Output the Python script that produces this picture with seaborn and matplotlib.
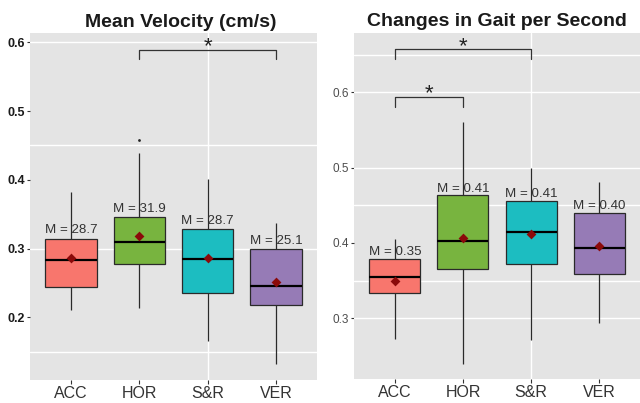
import numpy as np
import pandas as pd
import matplotlib
matplotlib.use("Agg")
import matplotlib.pyplot as plt
from matplotlib.ticker import FixedLocator
import seaborn as sns

# ---------------- data ----------------
categories = ["ACC", "HOR", "S&R", "VER"]
colors = ["#F8766D", "#78B43F", "#1CBDC1", "#967BB6"]

# Mean velocity: whisker low, Q1, median, Q3, whisker high
vel_low = [0.211, 0.213, 0.165, 0.132]
vel_q1 = [0.2445, 0.2775, 0.235, 0.2175]
vel_med = [0.283, 0.310, 0.285, 0.2455]
vel_q3 = [0.3146, 0.3455, 0.328, 0.2998]
vel_high = [0.382, 0.4394, 0.401, 0.3367]
vel_mean = [0.287, 0.319, 0.287, 0.251]
vel_labels = ["M = 28.7", "M = 31.9", "M = 28.7", "M = 25.1"]
vel_outlier_cat = ["HOR"]
vel_outlier_val = [0.458]
vel_yticks = [0.2, 0.3, 0.4, 0.5, 0.6]
vel_grid = [0.15, 0.30, 0.45, 0.60]
vel_sig = [("HOR", "VER", 0.589)]

# Changes in gait per second
gait_low = [0.272, 0.239, 0.271, 0.294]
gait_q1 = [0.333, 0.365, 0.372, 0.359]
gait_med = [0.355, 0.402, 0.414, 0.393]
gait_q3 = [0.379, 0.4637, 0.456, 0.440]
gait_high = [0.405, 0.561, 0.499, 0.481]
gait_mean = [0.350, 0.406, 0.412, 0.396]
gait_labels = ["M = 0.35", "M = 0.41", "M = 0.41", "M = 0.40"]
gait_yticks = [0.3, 0.4, 0.5, 0.6]
gait_grid = [0.30, 0.35, 0.45, 0.50, 0.60, 0.65]
gait_sig = [("ACC", "S&R", 0.657), ("ACC", "HOR", 0.5935)]

sns.set_theme(style="white")
plt.rcParams["font.family"] = ["Liberation Sans", "DejaVu Sans"]

fig = plt.figure(figsize=(6.4, 4.03), dpi=100)
ax1 = fig.add_axes([30 / 640, 23 / 403, 287 / 640, 346.7 / 403])
ax2 = fig.add_axes([354 / 640, 23.7 / 403, 286 / 640, 346.6 / 403])


def panel(ax, low, q1, med, q3, high, means, labels, ylim, yticks, grid,
          sig, title, title_x, bold_y, label_off, drop,
          out_cat=None, out_val=None):
    rows = []
    for c, a, b, m, d, e in zip(categories, low, q1, med, q3, high):
        for v in (a, b, m, d, e):
            rows.append({"cat": c, "val": v})
    df = pd.DataFrame(rows)
    ax.set_facecolor("#E4E4E4")
    sns.boxplot(data=df, x="cat", y="val", hue="cat", order=categories,
                hue_order=categories, palette=dict(zip(categories, colors)),
                whis=(0, 100), width=0.75, saturation=1, linecolor="#2a2a2a",
                linewidth=0.9, showcaps=False, showfliers=False,
                medianprops=dict(color="black", linewidth=1.6),
                legend=False, ax=ax, zorder=2)
    sns.stripplot(x=categories, y=means, order=categories, jitter=False,
                  marker="D", size=5, color="#8B0A0A", ax=ax, zorder=5)
    if out_cat:
        sns.stripplot(x=out_cat, y=out_val, order=categories, jitter=False,
                      size=2, color="#222222", ax=ax, zorder=5)
    for i, (lab, top) in enumerate(zip(labels, q3)):
        ax.annotate(lab, xy=(i, top), xytext=(0, label_off),
                    textcoords="offset points", ha="center", va="bottom",
                    fontsize=9.6, color="#333333", zorder=6)
    for a, b, h in sig:
        xa, xb = categories.index(a), categories.index(b)
        ax.plot([xa, xa, xb, xb], [h - drop, h, h, h - drop],
                color="#333333", lw=0.9, zorder=4)
        ax.annotate("*", xy=((xa + xb) / 2, h), xytext=(0, -1.8),
                    textcoords="offset points", ha="center", va="baseline",
                    fontsize=16, color="#222222")
    ax.set_xlim(-0.6, 3.6)
    ax.set_ylim(*ylim)
    ax.set_yticks(yticks)
    ax.set_yticklabels([f"{t:.1f}" for t in yticks])
    ax.xaxis.remove_overlapping_locs = False
    ax.yaxis.remove_overlapping_locs = False
    ax.yaxis.set_minor_locator(FixedLocator(grid))
    ax.xaxis.set_minor_locator(FixedLocator([2]))
    ax.grid(False, which="major")
    ax.grid(True, which="minor", color="white", linewidth=1.0)
    ax.set_axisbelow(True)
    ax.tick_params(which="minor", length=0)
    ax.tick_params(axis="x", which="major", length=3, width=0.8,
                   color="#333333", labelsize=11.5, labelcolor="#333333",
                   pad=1, bottom=True)
    ax.tick_params(axis="y", which="major", length=2.5, width=0.8,
                   color="#333333", labelsize=9 if bold_y else 8.5,
                   labelcolor="#1a1a1a" if bold_y else "#4D4D4D",
                   pad=1, left=True)
    if bold_y:
        for t in ax.get_yticklabels():
            t.set_fontweight("bold")
    for s in ax.spines.values():
        s.set_visible(False)
    ax.set_xlabel("")
    ax.set_ylabel("")
    ax.set_title(title, fontsize=14, fontweight="bold", color="#1a1a1a",
                 x=title_x, pad=4.5)


panel(ax1, vel_low, vel_q1, vel_med, vel_q3, vel_high, vel_mean, vel_labels,
      (0.109, 0.613), vel_yticks, vel_grid, vel_sig, "Mean Velocity (cm/s)",
      0.526, True, 1.5, 0.014, vel_outlier_cat, vel_outlier_val)

panel(ax2, gait_low, gait_q1, gait_med, gait_q3, gait_high, gait_mean,
      gait_labels, (0.219, 0.679), gait_yticks, gait_grid, gait_sig,
      "Changes in Gait per Second", 0.501, False, 0.3, 0.0125)

fig.savefig("out.png", dpi=100)
